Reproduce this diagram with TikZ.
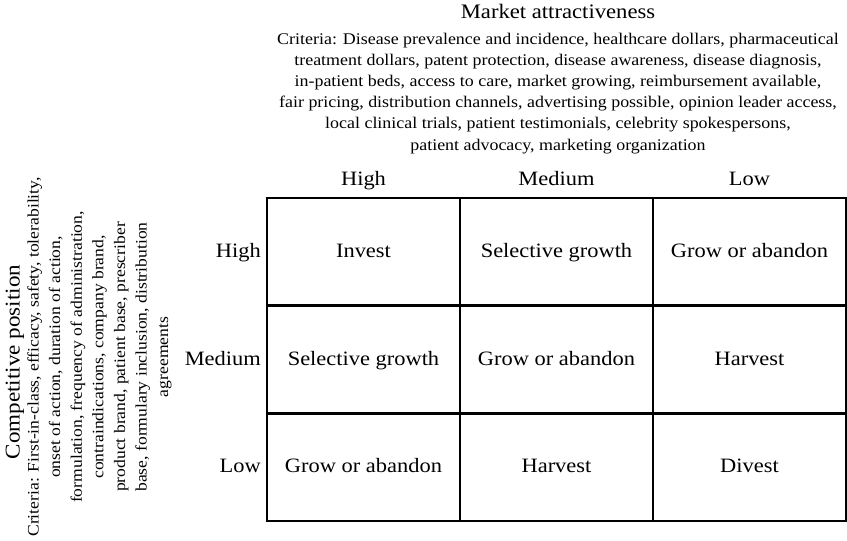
\documentclass[tikz,border=0pt]{standalone}
\usepackage{fontspec}
\setmainfont{Liberation Serif}[FakeStretch=1.1]
\begin{document}
\begin{tikzpicture}[x=1pt,y=-1pt,
  cell/.style={draw,line width=2.4pt,minimum width=193pt,minimum height=107.7pt,inner sep=0pt,text height=15.3pt,text depth=3.5pt,font=\fontsize{20.4}{24}\selectfont},
  hdr/.style={inner sep=0pt,font=\fontsize{20.4}{24}\selectfont},
  ttl/.style={inner sep=0pt,font=\fontsize{20.6}{24}\selectfont},
  crit/.style={inner sep=0pt,align=center,font=\fontsize{16.3}{21.1}\selectfont}]
\useasboundingbox (0,0) rectangle (847,541);
% grid cells
\node[cell] (c11) at (363.5,252) {Invest};
\node[cell] (c12) at (556.5,252) {Selective growth};
\node[cell] (c13) at (749.5,252) {Grow or abandon};
\node[cell] (c21) at (363.5,359.5) {Selective growth};
\node[cell] (c22) at (556.5,359.5) {Grow or abandon};
\node[cell] (c23) at (749.5,359.5) {Harvest};
\node[cell] (c31) at (363.5,467) {Grow or abandon};
\node[cell] (c32) at (556.5,467) {Harvest};
\node[cell] (c33) at (749.5,467) {Divest};
% column headers
\node[hdr,anchor=base] (h1) at (363.5,185) {High};
\node[hdr,anchor=base] (h2) at (556.5,185) {Medium};
\node[hdr,anchor=base] (h3) at (749.5,185) {Low};
% row labels
\node[hdr,anchor=base east] (r1) at (261,257.5) {High};
\node[hdr,anchor=base east] (r2) at (261,365) {Medium};
\node[hdr,anchor=base east] (r3) at (261,472.5) {Low};
% top title and criteria
\node[ttl,anchor=base] (mt) at (558,18) {Market attractiveness};
\node[crit,anchor=north] (mc) at (558,33) {Criteria: Disease prevalence and incidence, healthcare dollars, pharmaceutical\\
treatment dollars, patent protection, disease awareness, disease diagnosis,\\
in-patient beds, access to care, market growing, reimbursement available,\\
fair pricing, distribution channels, advertising possible, opinion leader access,\\
local clinical trials, patient testimonials, celebrity spokespersons,\\
patient advocacy, marketing organization};
% left title and criteria
\node[ttl,rotate=90,font=\fontsize{21}{24}\selectfont] (ct) at (15,362) {Competitive position};
\node[crit,rotate=90,font=\fontsize{16}{21.6}\selectfont] (cc) at (99.5,357) {Criteria: First-in-class, efficacy, safety, tolerability,\\
onset of action, duration of action,\\
formulation, frequency of administration,\\
contraindications, company brand,\\
product brand, patient base, prescriber\\
base, formulary inclusion, distribution\\
agreements};
\end{tikzpicture}
\end{document}
